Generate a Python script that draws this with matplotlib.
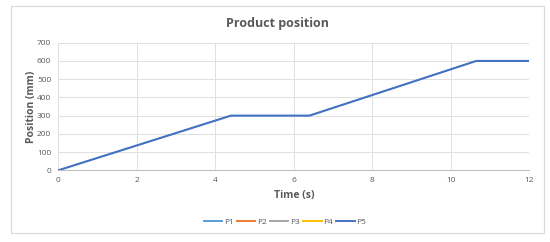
import matplotlib.pyplot as plt
from matplotlib.patches import Rectangle

# product position vs time (all series overlap, P5 drawn on top)
time_s = [0, 4.4, 6.4, 10.65, 12]
position_mm = [0, 300, 300, 600, 600]
series = ["P1", "P2", "P3", "P4", "P5"]
colors = ["#5B9BD5", "#ED7D31", "#A5A5A5", "#FFC000", "#4472C4"]

plt.rcParams["font.family"] = ["Open Sans", "DejaVu Sans"]

W, H = 550, 242
fig = plt.figure(figsize=(W / 100, H / 100), dpi=100)
fig.patches.append(Rectangle((11 / W, 9 / H), 533 / W, 227 / H,
                             transform=fig.transFigure, fill=False,
                             edgecolor="#D9D9D9", lw=0.8))

ax = fig.add_axes([58.3 / W, (H - 170.3) / H, 471 / W, 127.6 / H])
for name, c in zip(series, colors):
    # hidden series sit under P5, keep them thinner so edges stay clean
    lw = 1.5 if name == "P5" else 0.6
    ax.plot(time_s, position_mm, color=c, lw=lw, label=name)

ax.set_xlim(0, 12)
ax.set_ylim(0, 700)
ax.set_xticks(range(0, 13, 2))
ax.set_yticks(range(0, 701, 100))
ax.grid(True, color="#E0E0E0", lw=0.7)
ax.set_axisbelow(True)
for s in ["top", "right", "left"]:
    ax.spines[s].set_visible(False)
ax.spines["bottom"].set_color("#BFBFBF")
ax.tick_params(length=0, labelsize=6, colors="#595959", pad=5)

fig.text(277 / W, 1 - 23 / H, "Product position", fontsize=9, fontweight="bold",
         color="#595959", ha="center", va="center")
ax.set_xlabel("Time (s)", fontsize=7.5, fontweight="bold", color="#595959", labelpad=4)
ax.set_ylabel("Position (mm)", fontsize=7.5, fontweight="bold", color="#595959", labelpad=0)

leg = fig.legend(loc="center", bbox_to_anchor=(285 / W, 1 - 222 / H), ncol=5, frameon=False,
                 fontsize=6, handlelength=2.2, columnspacing=0.4, handletextpad=0.2,
                 labelcolor="#595959")
for line in leg.get_lines():
    line.set_linewidth(1.4)

fig.savefig("out.png", dpi=100)
